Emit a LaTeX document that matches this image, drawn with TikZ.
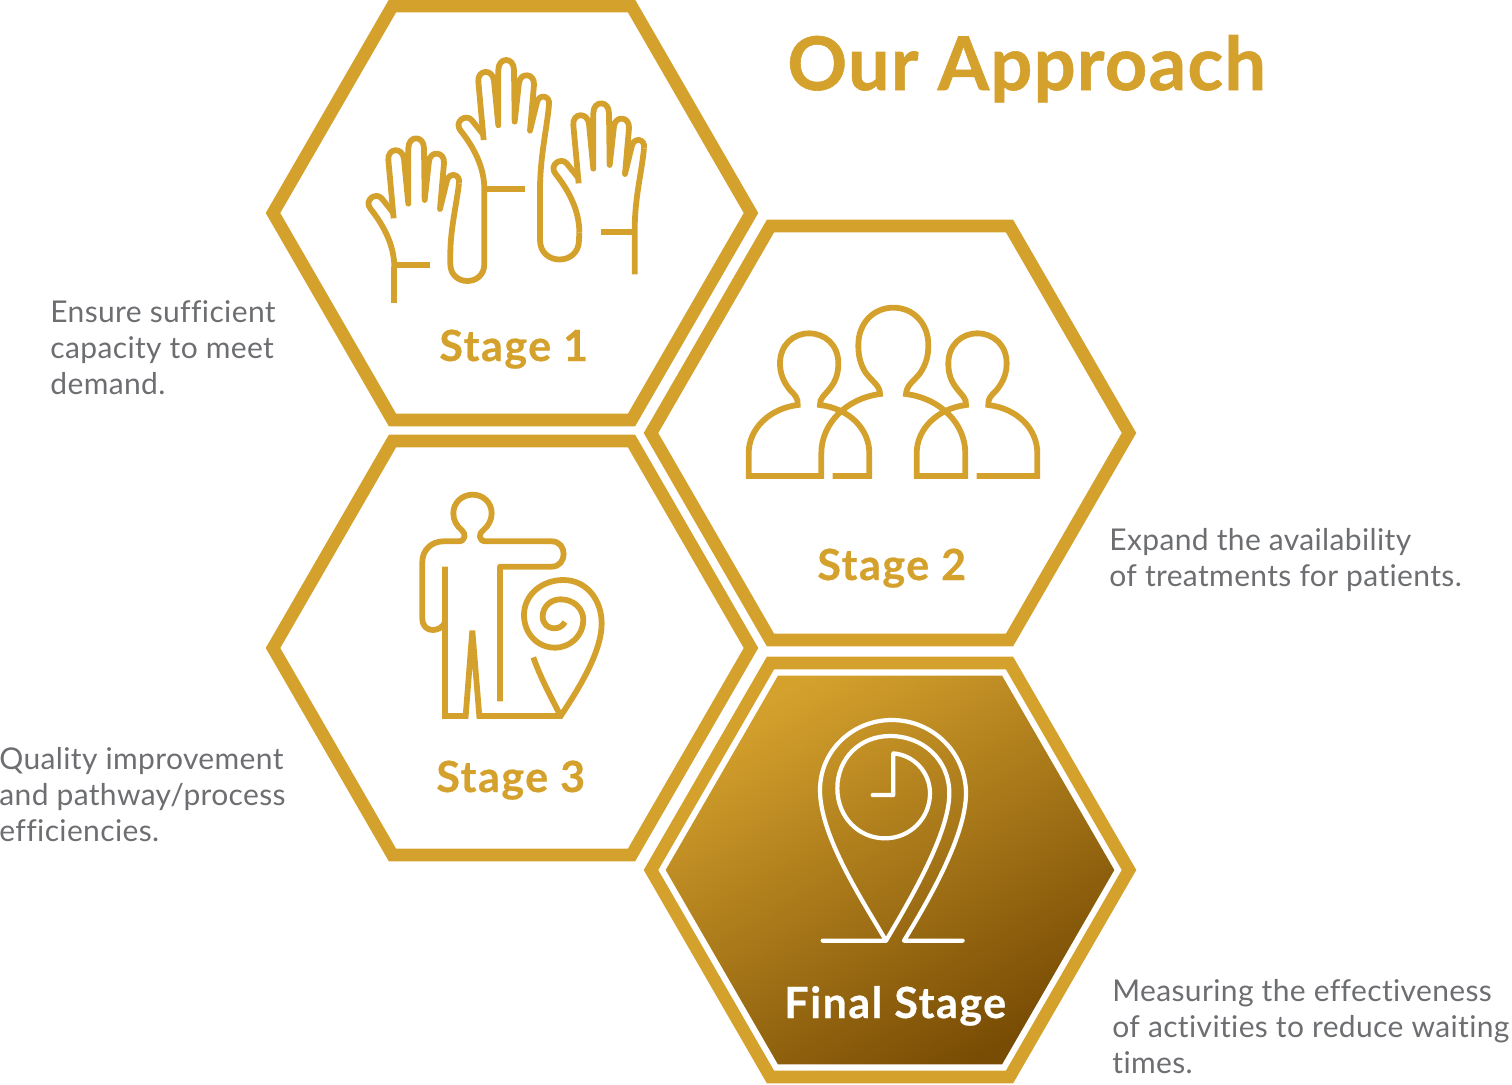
\documentclass[tikz,border=0pt]{standalone}
\usepackage{fontspec}
\setmainfont[LetterSpace=1.2,Ligatures=NoCommon]{Lato}
\newfontfamily\titlefont[LetterSpace=1.7,FakeBold=0.8]{Lato Bold}
\newfontfamily\stagefont[LetterSpace=3.5,FakeBold=0.6]{Lato Bold}
\definecolor{gold}{HTML}{D5A12D}
\definecolor{golddark}{HTML}{784C04}
\definecolor{bodygrey}{HTML}{6D6E71}
\newcommand{\bodytext}[1]{\begin{tabular}[t]{@{}l@{}}#1\end{tabular}}
\newcommand{\handfingers}{%
    \draw[icon] (431,300) -- (415,125) .. controls (412,88) and (458,85) .. (462,122) -- (475,256)
      -- (475,90) .. controls (475,50) and (522,50) .. (522,90) -- (524,245)
      -- (537,128) .. controls (542,95) and (585,100) .. (582,135) -- (570,272)
      -- (590,190) .. controls (595,160) and (632,165) .. (627,195);
    \draw[icon] (431,285) -- (395,240) .. controls (378,220) and (340,245) .. (362,272)
      .. controls (400,320) and (433,380) .. (433,447);
}
\tikzset{
  hexline/.style={draw=gold,line width=6.3pt,miter limit=10,line join=miter},
  icon/.style={draw=gold,line width=2.9pt,line join=round},
  whiteicon/.style={draw=white,line width=2.1pt,line join=round,line cap=round},
  stagelabel/.style={anchor=base west,inner sep=0,text=gold,font=\fontsize{21.5}{24}\selectfont\stagefont},
  desc/.style={anchor=base west,inner sep=0,text=bodygrey,font=\fontsize{15}{18}\selectfont},
}
\begin{document}
\begin{tikzpicture}[x=0.5pt,y=-0.5pt]
\useasboundingbox (0,0) rectangle (1512,1084);
% hexagons
\draw[hexline] (273,213) -- (392.5,6) -- (631.5,6) -- (751,213) -- (631.5,420) -- (392.5,420) -- cycle;
\draw[hexline] (651,433) -- (770.5,226) -- (1009.5,226) -- (1129,433) -- (1009.5,640) -- (770.5,640) -- cycle;
\draw[hexline] (273,648) -- (392.5,441) -- (631.5,441) -- (751,648) -- (631.5,855) -- (392.5,855) -- cycle;
\draw[hexline] (651,870) -- (770.5,663) -- (1009.5,663) -- (1129,870) -- (1009.5,1077) -- (770.5,1077) -- cycle;
\path[draw=white,line width=2.6pt,top color=gold,bottom color=golddark,shading angle=30]
  (662.5,870) -- (776.3,673) -- (1003.7,673) -- (1117.5,870) -- (1003.7,1067) -- (776.3,1067) -- cycle;
% hands
\begin{scope}[shift={(340,40)},scale=1/3]
  \handfingers
  \begin{scope}[shift={(-270,235)}]\handfingers\end{scope}
  \begin{scope}[shift={(285,130)}]\handfingers\end{scope}
  % left-hand wrist
  \draw[icon] (163,682) -- (163,788);
  \draw[icon] (163,676) -- (271,676);
  % left hand pinky side, round the U, to the middle hand's wrist
  \draw[icon] (357,430) .. controls (350,490) and (331,570) .. (331,640) -- (331,672)
    .. controls (331,740) and (433,740) .. (433,672) -- (433,447);
  \draw[icon] (433,447) -- (556,447);
  % middle hand pinky side, round the U, to the right hand's thumb end
  \draw[icon] (627,195) .. controls (620,270) and (600,350) .. (600,450) -- (600,600)
    .. controls (600,678) and (717,678) .. (717,600) -- (718,577);
  % right hand pinky side and wrist
  \draw[icon] (912,325) .. controls (905,400) and (884,470) .. (884,575) -- (884,703);
  \draw[icon] (782,575) -- (884,575);
\end{scope}
% people
\begin{scope}[shift={(730,290)},scale=1/3]
  \draw[icon,line join=miter] (308,558) -- (418,558) -- (418,490)
    .. controls (418,415) and (355,355) .. (270,345)
    .. controls (268,325) and (285,315) .. (300,295)
    .. controls (320,270) and (325,245) .. (325,220)
    .. controls (325,165) and (285,130) .. (237,130)
    .. controls (190,130) and (150,165) .. (150,220)
    .. controls (150,250) and (160,275) .. (180,300)
    .. controls (195,315) and (205,325) .. (203,345)
    .. controls (120,355) and (56,415) .. (56,490) -- (56,558) -- (274,558)
    -- (274,490) .. controls (274,400) and (350,325) .. (450,312)
    .. controls (450,285) and (425,275) .. (405,245)
    .. controls (390,220) and (385,195) .. (385,165)
    .. controls (385,100) and (430,53) .. (490,53)
    .. controls (550,53) and (595,100) .. (595,165)
    .. controls (595,195) and (590,220) .. (570,250)
    .. controls (550,275) and (530,285) .. (528,312)
    .. controls (630,325) and (706,400) .. (706,490) -- (706,558) -- (560,558) -- (560,490)
    .. controls (560,415) and (625,355) .. (708,345)
    .. controls (710,325) and (695,315) .. (680,295)
    .. controls (660,270) and (655,245) .. (655,220)
    .. controls (655,165) and (695,130) .. (742,130)
    .. controls (790,130) and (830,165) .. (830,220)
    .. controls (830,250) and (820,275) .. (800,300)
    .. controls (785,315) and (773,325) .. (775,345)
    .. controls (860,355) and (922,415) .. (922,490) -- (922,558) -- (740,558);
\end{scope}
% figure and pin
\begin{scope}[shift={(400,480)},scale=1/3]
  \draw[icon,line join=miter] (135,260) -- (135,708) -- (197,708) -- (217,452) -- (238,708) -- (488,708);
  \draw[icon] (135,425) .. controls (128,455) and (67,465) .. (67,415) -- (67,245)
    .. controls (67,210) and (95,184) .. (130,184) -- (175,184)
    .. controls (198,184) and (198,160) .. (185,150)
    .. controls (170,138) and (160,120) .. (160,100)
    .. controls (160,68) and (186,44) .. (218,44)
    .. controls (250,44) and (275,68) .. (275,100)
    .. controls (275,120) and (265,138) .. (250,150)
    .. controls (235,160) and (235,184) .. (258,184) -- (455,184)
    .. controls (503,184) and (503,260) .. (455,260) -- (300,260) -- (300,664);
  \draw[icon] (400,532) .. controls (420,590) and (455,655) .. (482,708)
    .. controls (530,635) and (605,520) .. (605,430)
    .. controls (605,360) and (560,300) .. (490,300)
    .. controls (425,300) and (372,345) .. (372,405)
    .. controls (372,460) and (412,503) .. (465,503)
    .. controls (512,503) and (550,465) .. (550,420)
    .. controls (550,385) and (520,358) .. (482,358)
    .. controls (452,358) and (428,380) .. (428,410)
    .. controls (428,432) and (445,445) .. (462,445)
    .. controls (478,445) and (488,438) .. (495,426);
\end{scope}
% location pin with clock
\begin{scope}[shift={(640,650)},scale=1/3]
  \draw[whiteicon] (548,872) -- (738,872)
    .. controls (670,755) and (540,560) .. (540,420)
    .. controls (540,300) and (640,210) .. (755,210)
    .. controls (880,210) and (978,310) .. (978,430)
    .. controls (978,560) and (860,760) .. (792,872) -- (968,872);
  \draw[whiteicon] (738,872) .. controls (810,750) and (928,550) .. (928,430)
    .. controls (928,330) and (850,258) .. (750,258)
    .. controls (660,258) and (592,325) .. (592,415)
    .. controls (592,500) and (655,565) .. (735,565)
    .. controls (810,565) and (870,505) .. (870,430)
    .. controls (870,365) and (820,315) .. (760,310) -- (760,435) -- (698,435);
\end{scope}
% labels
\node[anchor=base west,inner sep=0,text=gold,font=\fontsize{37}{44}\selectfont\titlefont] (title) at (787,90) {Our Approach};
\node[stagelabel] (s1) at (439,361) {Stage 1};
\node[stagelabel] (s2) at (817,580) {Stage 2};
\node[stagelabel] (s3) at (436,792) {Stage 3};
\node[stagelabel,text=white] (s4) at (784,1018) {Final Stage};
\node[desc] (d1) at (50,322.5) {\bodytext{Ensure sufficient\\capacity to meet\\demand.}};
\node[desc] (d2) at (1109,550.5) {\bodytext{Expand the availability\\of treatments for patients.}};
\node[desc] (d3) at (-1,769.5) {\bodytext{Quality improvement\\and pathway/process\\efficiencies.}};
\node[desc] (d4) at (1112,1001.5) {\bodytext{Measuring the effectiveness\\of activities to reduce waiting\\times.}};
\end{tikzpicture}
\end{document}
